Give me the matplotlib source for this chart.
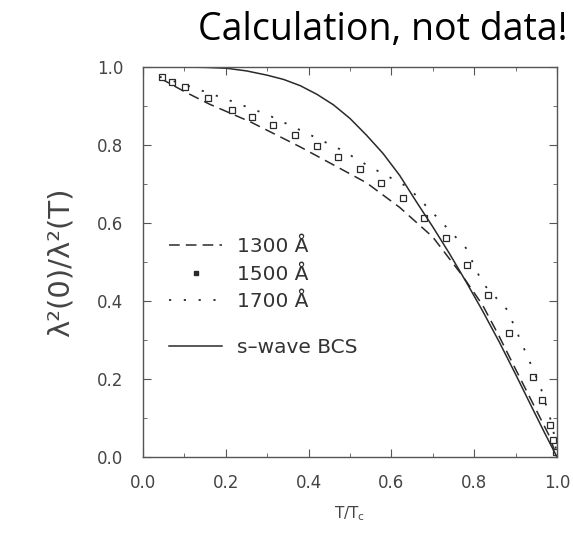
import numpy as np
import matplotlib.pyplot as plt
from matplotlib.lines import Line2D
from matplotlib.legend_handler import HandlerLine2D

# values (T/Tc, lambda^2(0)/lambda^2(T))
t_1300 = [0.04, 0.10, 0.16, 0.26, 0.38, 0.46, 0.54, 0.62, 0.70, 0.77, 0.82, 0.86, 0.90, 0.95, 0.98, 1.00]
y_1300 = [0.972, 0.937, 0.905, 0.859, 0.795, 0.749, 0.703, 0.640, 0.564, 0.467, 0.39, 0.31, 0.225, 0.12, 0.057, 0.0]

t_1500 = [0.046, 0.07, 0.101, 0.157, 0.215, 0.263, 0.314, 0.367, 0.42, 0.47, 0.524, 0.575, 0.628,
          0.679, 0.731, 0.782, 0.833, 0.884, 0.942, 0.964, 0.983, 0.99, 0.998]
y_1500 = [0.974, 0.962, 0.949, 0.92, 0.89, 0.872, 0.851, 0.826, 0.798, 0.77, 0.738, 0.703, 0.664,
          0.613, 0.562, 0.492, 0.415, 0.318, 0.205, 0.146, 0.082, 0.044, 0.012]

t_1700 = [0.04, 0.10, 0.20, 0.30, 0.38, 0.48, 0.54, 0.64, 0.71, 0.78, 0.82, 0.88, 0.92, 0.96, 0.99, 1.00]
y_1700 = [0.975, 0.955, 0.918, 0.878, 0.838, 0.787, 0.749, 0.692, 0.615, 0.536, 0.446, 0.377, 0.279, 0.18, 0.077, 0.0]

t_bcs = [0.0, 0.10, 0.15, 0.20, 0.25, 0.30, 0.34, 0.38, 0.42, 0.46, 0.50, 0.54, 0.58, 0.62, 0.66,
         0.70, 0.74, 0.78, 0.82, 0.86, 0.90, 0.94, 0.97, 1.00]
y_bcs = [1.0, 1.0, 0.999, 0.997, 0.99, 0.979, 0.968, 0.952, 0.93, 0.903, 0.868, 0.825, 0.778, 0.722, 0.655,
         0.59, 0.522, 0.45, 0.375, 0.296, 0.212, 0.126, 0.062, 0.0]

ink = '#2a2a2a'
grey = '#555555'
txt = '#444444'


class RightMarker(HandlerLine2D):
    # legend marker sits at the right end of the handle, like the scan
    def get_xdata(self, legend, xdescent, ydescent, width, height, fontsize):
        xdata, _ = super().get_xdata(legend, xdescent, ydescent, width, height, fontsize)
        return xdata, np.array([width - xdescent - 2])


fig = plt.figure(figsize=(5.73, 5.47), dpi=100)
ax = fig.add_axes([0.2496, 0.1645, 0.7225, 0.713])

ax.plot(t_1300, y_1300, color=ink, lw=1.1, linestyle=(0, (7, 4)))
ax.plot(t_1500, y_1500, linestyle='none', marker='s', ms=4.5, mfc='white', mec=ink, mew=0.9)
ax.plot(t_1700, y_1700, color=ink, lw=1.3, linestyle=(0, (1.2, 7)))
ax.plot(t_bcs, y_bcs, color=ink, lw=1.1)

ax.set_xlim(0, 1)
ax.set_ylim(0, 1)
ax.set_xticks(np.arange(0, 1.01, 0.2))
ax.set_yticks(np.arange(0, 1.01, 0.2))
ax.set_xticks(np.arange(0, 1.01, 0.1), minor=True)
ax.set_yticks(np.arange(0, 1.01, 0.1), minor=True)
ax.tick_params(which='both', direction='in', top=True, right=True, color=grey, labelcolor=txt)
ax.tick_params(which='major', length=6, labelsize=12)
ax.tick_params(axis='x', which='major', pad=12)
ax.tick_params(axis='y', which='major', pad=14)
ax.tick_params(which='minor', length=3)
for s in ax.spines.values():
    s.set_color(grey)
    s.set_linewidth(1.0)

ax.set_xlabel(r'T/T$_{\rm c}$', fontsize=11, color=txt, labelpad=9)
ax.set_ylabel('λ²(0)/λ²(T)', fontsize=21, color=txt, labelpad=16)

sq = Line2D([], [], linestyle='none', marker='s', ms=3, mfc=ink, mec=ink)
h1 = [Line2D([], [], color=ink, lw=1.1, linestyle=(0, (7, 4))),
      sq,
      Line2D([], [], color=ink, lw=1.3, linestyle=(0, (1.2, 7)))]
leg1 = ax.legend(h1, ['1300 Å', '1500 Å', '1700 Å'], loc='upper left', bbox_to_anchor=(0.02, 0.61),
                 frameon=False, fontsize=14.5, handlelength=2.6, labelspacing=0.42, numpoints=1,
                 handletextpad=0.75, labelcolor='#333333', handler_map={sq: RightMarker()})
ax.add_artist(leg1)
ax.legend([Line2D([], [], color=ink, lw=1.1)], ['s–wave BCS'], loc='upper left',
          bbox_to_anchor=(0.02, 0.352), frameon=False, fontsize=14.5, handlelength=2.6,
          handletextpad=0.75, labelcolor='#333333')

fig.text(0.668, 0.945, 'Calculation, not data!', fontsize=27, family='Open Sans',
         ha='center', va='center', color='black')

fig.savefig('out.png', dpi=100)
